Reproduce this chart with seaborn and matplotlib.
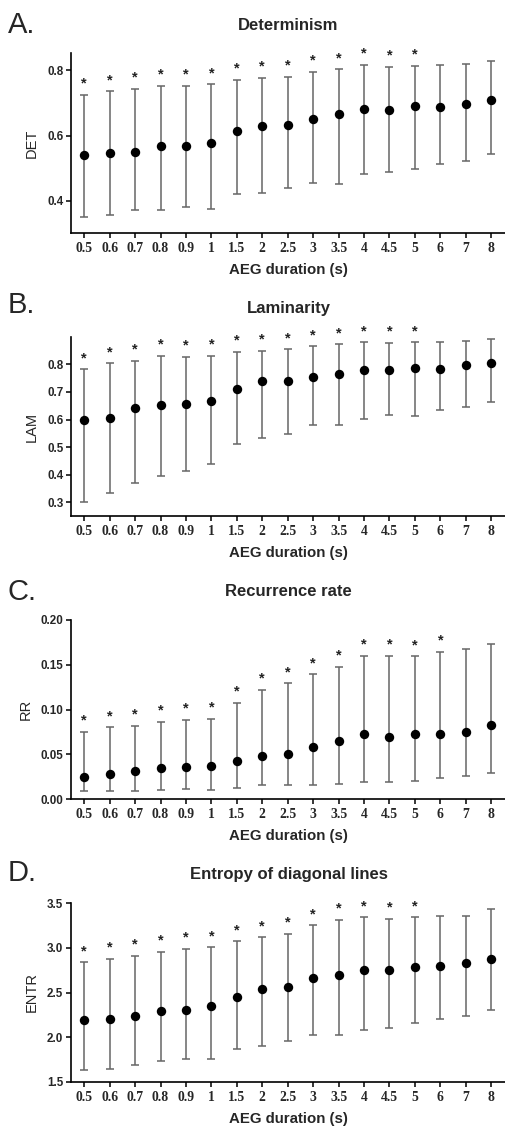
import numpy as np
import pandas as pd
import matplotlib
matplotlib.use("Agg")
import matplotlib.pyplot as plt
import seaborn as sns

# ---------------- data ----------------
durations = ["0.5", "0.6", "0.7", "0.8", "0.9", "1", "1.5", "2", "2.5",
             "3", "3.5", "4", "4.5", "5", "6", "7", "8"]

det_mean = [0.541, 0.548, 0.551, 0.568, 0.569, 0.578, 0.614, 0.631, 0.632,
            0.652, 0.665, 0.683, 0.679, 0.692, 0.687, 0.696, 0.709]
det_low = [0.350, 0.356, 0.371, 0.373, 0.381, 0.376, 0.420, 0.424, 0.440,
           0.455, 0.453, 0.483, 0.488, 0.498, 0.512, 0.521, 0.544]
det_high = [0.725, 0.736, 0.743, 0.752, 0.753, 0.757, 0.770, 0.778, 0.781,
            0.795, 0.803, 0.817, 0.810, 0.813, 0.815, 0.819, 0.828]
det_star = [1, 1, 1, 1, 1, 1, 1, 1, 1, 1, 1, 1, 1, 1, 0, 0, 0]

lam_mean = [0.598, 0.607, 0.641, 0.654, 0.658, 0.669, 0.712, 0.741, 0.740,
            0.755, 0.766, 0.780, 0.778, 0.787, 0.784, 0.796, 0.804]
lam_low = [0.300, 0.336, 0.372, 0.396, 0.413, 0.440, 0.512, 0.534, 0.548,
           0.582, 0.582, 0.602, 0.616, 0.613, 0.636, 0.647, 0.665]
lam_high = [0.782, 0.804, 0.813, 0.830, 0.828, 0.831, 0.846, 0.849, 0.855,
            0.865, 0.872, 0.880, 0.877, 0.880, 0.882, 0.886, 0.893]
lam_star = [1, 1, 1, 1, 1, 1, 1, 1, 1, 1, 1, 1, 1, 1, 0, 0, 0]

rr_mean = [0.0250, 0.0283, 0.0309, 0.0346, 0.0358, 0.0372, 0.0428, 0.0477, 0.0507,
           0.0585, 0.0644, 0.0730, 0.0689, 0.0723, 0.0723, 0.0745, 0.0823]
rr_low = [0.0086, 0.0086, 0.0089, 0.0097, 0.0108, 0.0104, 0.0123, 0.0156, 0.0156,
          0.0156, 0.0168, 0.0186, 0.0190, 0.0201, 0.0238, 0.0257, 0.0294]
rr_high = [0.0752, 0.0801, 0.0816, 0.0864, 0.0886, 0.0898, 0.1076, 0.1218, 0.1292,
           0.1393, 0.1475, 0.1598, 0.1601, 0.1594, 0.1646, 0.1680, 0.1735]
rr_star = [1, 1, 1, 1, 1, 1, 1, 1, 1, 1, 1, 1, 1, 1, 1, 0, 0]

entr_mean = [2.197, 2.205, 2.242, 2.290, 2.302, 2.354, 2.455, 2.536, 2.559,
             2.659, 2.693, 2.756, 2.752, 2.786, 2.793, 2.834, 2.872]
entr_low = [1.630, 1.646, 1.695, 1.732, 1.754, 1.754, 1.866, 1.903, 1.959,
            2.022, 2.022, 2.086, 2.108, 2.160, 2.209, 2.242, 2.302]
entr_high = [2.836, 2.879, 2.912, 2.953, 2.987, 3.004, 3.071, 3.117, 3.156,
             3.251, 3.315, 3.341, 3.322, 3.341, 3.356, 3.356, 3.430]
entr_star = [1, 1, 1, 1, 1, 1, 1, 1, 1, 1, 1, 1, 1, 1, 0, 0, 0]

panels = [
    dict(letter="A.", title="Determinism", ylabel="DET",
         mean=det_mean, low=det_low, high=det_high, star=det_star,
         ylim=(0.302, 0.853), yticks=[0.4, 0.6, 0.8], fmt="{:.1f}"),
    dict(letter="B.", title="Laminarity", ylabel="LAM",
         mean=lam_mean, low=lam_low, high=lam_high, star=lam_star,
         ylim=(0.251, 0.899), yticks=[0.3, 0.4, 0.5, 0.6, 0.7, 0.8], fmt="{:.1f}"),
    dict(letter="C.", title="Recurrence rate", ylabel="RR",
         mean=rr_mean, low=rr_low, high=rr_high, star=rr_star,
         ylim=(0.0, 0.20), yticks=[0.0, 0.05, 0.10, 0.15, 0.20], fmt="{:.2f}"),
    dict(letter="D.", title="Entropy of diagonal lines", ylabel="ENTR",
         mean=entr_mean, low=entr_low, high=entr_high, star=entr_star,
         ylim=(1.5, 3.5), yticks=[1.5, 2.0, 2.5, 3.0, 3.5], fmt="{:.1f}"),
]

# ---------------- layout (pixels) ----------------
W, H = 506, 1128
sns.set_style("ticks")
plt.rcParams["font.family"] = ["Liberation Sans", "DejaVu Sans"]

fig = plt.figure(figsize=(W / 100, H / 100), dpi=100)

ax_tops = [53, 337, 620, 903]
ax_bots = [233, 516, 799, 1082]
title_y = [26, 309, 592, 874]
letter_y = [25, 305, 592, 873]
left_px, right_px = 71, 506

for p, top, bot, ty, ly in zip(panels, ax_tops, ax_bots, title_y, letter_y):
    ax = fig.add_axes([left_px / W, 1 - bot / H, (right_px - left_px) / W, (bot - top) / H])
    df = pd.DataFrame({"dur": durations, "val": p["mean"]})
    mean = np.array(p["mean"])
    low = np.array(p["low"])
    high = np.array(p["high"])
    xs = np.arange(len(durations))
    ax.errorbar(xs, mean, yerr=[mean - low, high - mean], fmt="none",
                ecolor="#666666", elinewidth=1.1, capsize=3.0, capthick=1.1, zorder=2)
    sns.scatterplot(data=df, x="dur", y="val", ax=ax, color="black", s=46,
                    linewidth=0, zorder=3, legend=False)
    for i, s in enumerate(p["star"]):
        if s:
            ax.annotate("*", xy=(xs[i], high[i]), xytext=(0, 3.0),
                        textcoords="offset points", ha="center", va="bottom",
                        fontsize=10.5, fontweight="bold", color="#222222")
    ax.set_xlim(-0.52, 16.58)
    ax.set_ylim(*p["ylim"])
    ax.set_yticks(p["yticks"])
    ax.set_yticklabels([p["fmt"].format(v) for v in p["yticks"]],
                       fontsize=8.4, fontweight="bold")
    ax.set_xticks(xs)
    ax.set_xticklabels(durations, fontsize=9.8, fontweight="bold",
                       family=["Liberation Serif", "DejaVu Serif"])
    ax.tick_params(axis="both", length=3.5, width=1.1, color="black", pad=2)
    ax.tick_params(axis="x", pad=3)
    ax.set_xlabel("")
    ax.set_ylabel(p["ylabel"], fontsize=10.5, labelpad=6)
    for sp in ["top", "right"]:
        ax.spines[sp].set_visible(False)
    for sp in ["left", "bottom"]:
        ax.spines[sp].set_linewidth(1.2)
        ax.spines[sp].set_color("black")
    cx = (left_px + right_px) / 2 / W
    fig.text(cx, 1 - ty / H, p["title"], ha="center", va="center",
             fontsize=12, fontweight="bold")
    fig.text(cx, 1 - (bot + 37) / H, "AEG duration (s)", ha="center", va="center",
             fontsize=10.8, fontweight="bold")
    fig.text(8 / W, 1 - ly / H, p["letter"], ha="left", va="center", fontsize=21)

fig.savefig("out.png", dpi=100)
